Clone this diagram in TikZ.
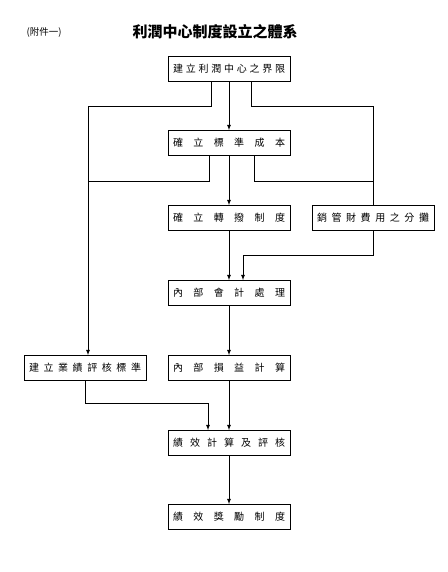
\documentclass[tikz,border=0pt]{standalone}
\usepackage{fontspec}
\newfontfamily\cjk{Noto Sans CJK TC}
\usetikzlibrary{calc}
\newcommand{\spread}[1]{\makebox[112pt][s]{#1}}

\begin{document}
\begin{tikzpicture}[x=1pt,y=-1pt,line width=0.8pt,
	box/.style={draw,minimum width=122pt,minimum height=25pt,inner sep=0pt,font=\cjk\fontsize{10}{11}\selectfont},
	arr/.style={-latex}]
					\useasboundingbox (0,0) rectangle (447,572);
					%TITLE
					\node[font=\cjk\fontsize{9.5}{10}\selectfont] (annex) at (44,32) {(附件一)};
					\node[font=\cjk\bfseries\fontsize{15}{16}\selectfont] (title) at (215,32) {利潤中心制度設立之體系};
					%BOXES
					\node[box] (lim) at (229,69) {\spread{建 立 利 潤 中 心 之 界 限}};
					\node[box] (std) at (229,143) {\spread{確 立 標 準 成 本}};
					\node[box] (rule) at (229,218) {\spread{確 立 轉 撥 制 度}};
					\node[box] (alloc) at (373,218) {\spread{銷 管 財 費 用 之 分 攤}};
					\node[box] (acc) at (229,293) {\spread{內 部 會 計 處 理}};
					\node[box] (perf) at (85,368) {\spread{建 立 業 績 評 核 標 準}};
					\node[box] (prof) at (229,368) {\spread{內 部 損 益 計 算}};
					\node[box] (eval) at (229,443) {\spread{績 效 計 算 及 評 核}};
					\node[box] (bonus) at (229,517) {\spread{績 效 獎 勵 制 度}};
					%JOINS
					\coordinate (jl) at (88,181);
					\coordinate (jr) at (373,181);
					%LINES
					\draw[arr] (lim) -- (std);
					\draw[arr] ($(lim.south)+(-18,0)$) -- ++(0,25) -| ([xshift=3pt]perf.north);
					\draw ($(lim.south)+(22,0)$) -- ++(0,25) -| (alloc.north);
					\draw[arr] (std) -- (rule);
					\draw ($(std.south)+(-20,0)$) |- (jl);
					\draw ($(std.south)+(25,0)$) |- (jr);
					\draw[arr] (rule) -- (acc);
					\draw[arr] (alloc.south) -- ++(0,24) -| ([xshift=14pt]acc.north);
					\draw[arr] (acc) -- (prof);
					\draw[arr] (perf.south) -- ++(0,22) -| ([xshift=-21pt]eval.north);
					\draw[arr] (prof) -- (eval);
					\draw[arr] (eval) -- (bonus);
\end{tikzpicture}
\end{document}
